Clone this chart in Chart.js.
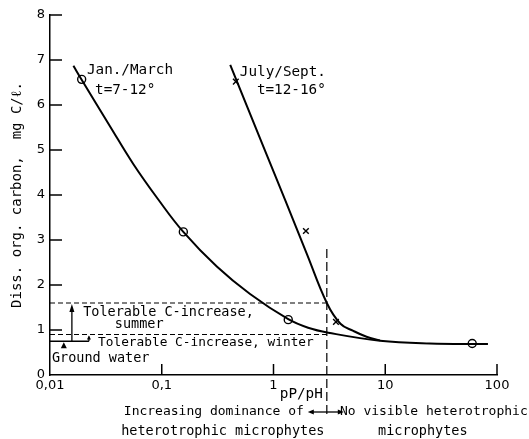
<!DOCTYPE html>
<html>
<head>
<meta charset="utf-8">
<script src="https://cdn.jsdelivr.net/npm/chart.js@4.4.1/dist/chart.umd.min.js"></script>
<style>
  html, body { margin: 0; background: #fff; }
</style>
</head>
<body>
<canvas id="chart" width="529" height="439"></canvas>
<script>
// smooth curves (x = pP/pH, y = mg C/l)
const winterCurve = [[0.0162, 6.87], [0.0192, 6.56], [0.0344, 5.53], [0.0556, 4.69], [0.0931, 3.9],
  [0.156, 3.18], [0.311, 2.41], [0.617, 1.8], [1.355, 1.24], [2.04, 1.05], [3.09, 0.94],
  [8.97, 0.76], [25, 0.7], [83, 0.69]];
const summerCurve = [[0.41, 6.89], [0.81, 5.08], [1.27, 3.89], [1.995, 2.68], [3.0, 1.6],
  [3.97, 1.14], [5.18, 0.98], [6.8, 0.85], [8.97, 0.77]];

// measured points
const winterPoints = [[0.0192, 6.57], [0.156, 3.18], [1.355, 1.23], [60, 0.7]];
const summerPoints = [[0.46, 6.52], [1.95, 3.2], [3.62, 1.18], [60, 0.7]];

// reference levels
const groundWater = 0.75;
const tolerableWinter = 0.9;
const tolerableSummer = 1.6;
const thresholdRatio = 3;   // pP/pH limit
const thresholdTop = 2.8;

const xTickValues = [0.01, 0.1, 1, 10, 100];
const xTickLabels = ['0,01', '0,1', '1', '10', '100'];
const yTickValues = [0, 1, 2, 3, 4, 5, 6, 7, 8];

const FONT = '"DejaVu Sans", sans-serif';
const MONO = '"DejaVu Sans Mono", monospace';
const toXY = arr => arr.map(p => ({ x: p[0], y: p[1] }));

function arrowHead(ctx, x, y, dir, w, h) {
  // dir: 'up' | 'left' | 'right'
  ctx.beginPath();
  if (dir === 'up') {
    ctx.moveTo(x, y); ctx.lineTo(x - w / 2, y + h); ctx.lineTo(x + w / 2, y + h);
  } else if (dir === 'left') {
    ctx.moveTo(x, y); ctx.lineTo(x + h, y - w / 2); ctx.lineTo(x + h, y + w / 2);
  } else {
    ctx.moveTo(x, y); ctx.lineTo(x - h, y - w / 2); ctx.lineTo(x - h, y + w / 2);
  }
  ctx.closePath();
  ctx.fill();
}

const guides = {
  id: 'guides',
  beforeDatasetsDraw(chart) {
    const { ctx, scales: { x, y } } = chart;
    const left = x.left;
    const vx = x.getPixelForValue(thresholdRatio);
    ctx.save();
    ctx.strokeStyle = '#000';
    ctx.fillStyle = '#000';

    // inward tick marks
    ctx.lineWidth = 1.5;
    yTickValues.slice(1).forEach(v => {
      const py = y.getPixelForValue(v);
      ctx.beginPath(); ctx.moveTo(left, py); ctx.lineTo(left + 12, py); ctx.stroke();
    });
    xTickValues.slice(1).forEach(v => {
      const px = x.getPixelForValue(v);
      ctx.beginPath(); ctx.moveTo(px, y.bottom); ctx.lineTo(px, y.bottom - 11); ctx.stroke();
    });

    // dashed tolerance lines
    ctx.lineWidth = 1.2;
    ctx.setLineDash([5, 3]);
    [tolerableSummer, tolerableWinter].forEach(v => {
      const py = y.getPixelForValue(v);
      ctx.beginPath(); ctx.moveTo(left, py); ctx.lineTo(vx, py); ctx.stroke();
    });
    // threshold line, runs down into the caption
    ctx.setLineDash([9, 4]);
    ctx.beginPath();
    ctx.moveTo(vx, y.getPixelForValue(thresholdTop));
    ctx.lineTo(vx, y.bottom + 43);
    ctx.stroke();
    ctx.setLineDash([]);

    // ground water line and arrows
    const gy = y.getPixelForValue(groundWater);
    const ax1 = x.getPixelForValue(0.0157);
    const ax2 = x.getPixelForValue(0.0223);
    ctx.lineWidth = 1.3;
    ctx.beginPath(); ctx.moveTo(left, gy); ctx.lineTo(ax2, gy); ctx.stroke();
    const sy = y.getPixelForValue(tolerableSummer);
    ctx.beginPath(); ctx.moveTo(ax1, gy); ctx.lineTo(ax1, sy + 6); ctx.stroke();
    arrowHead(ctx, ax1, sy + 1, 'up', 5, 8);
    const wy = y.getPixelForValue(tolerableWinter);
    ctx.beginPath(); ctx.moveTo(ax2, gy); ctx.lineTo(ax2, wy + 2); ctx.stroke();
    arrowHead(ctx, ax2, wy + 1, 'up', 4, 4);
    arrowHead(ctx, x.getPixelForValue(0.0133), gy + 1, 'up', 6, 6);

    // labels in the plot
    ctx.textBaseline = 'middle';
    ctx.textAlign = 'left';
    ctx.font = '14.3px ' + MONO;
    const put = (s, vx_, vy_) => ctx.fillText(s, x.getPixelForValue(vx_), y.getPixelForValue(vy_));
    put('Jan./March', 0.0214, 6.78);
    put('t=7-12°', 0.0253, 6.33);
    put('July/Sept.', 0.5, 6.73);
    put('t=12-16°', 0.71, 6.33);
    ctx.font = '13.5px ' + MONO;
    put('Tolerable C-increase,', 0.0198, 1.38);
    put('summer', 0.038, 1.13);
    put('Ground water', 0.0104, 0.36);
    ctx.font = '12.8px ' + MONO;
    put('Tolerable C-increase, winter', 0.0269, 0.71);

    // caption under the axis
    const by = y.bottom;
    ctx.textAlign = 'right';
    ctx.font = '14.3px ' + MONO;
    ctx.fillText('pP/pH', vx - 4, by + 19);
    ctx.textAlign = 'center';
    ctx.font = '13px ' + MONO;
    ctx.fillText('Increasing dominance of', vx - 113, by + 37);
    ctx.fillText('No visible heterotrophic', vx + 107, by + 37);
    ctx.font = '13.5px ' + MONO;
    ctx.fillText('heterotrophic microphytes', vx - 104, by + 56);
    ctx.fillText('microphytes', vx + 96, by + 56);
    ctx.lineWidth = 1.3;
    ctx.beginPath(); ctx.moveTo(vx - 15, by + 37); ctx.lineTo(vx + 13, by + 37); ctx.stroke();
    arrowHead(ctx, vx - 19, by + 37, 'left', 5, 6);
    arrowHead(ctx, vx + 17, by + 37, 'right', 5, 6);
    ctx.restore();
  }
};

const curveStyle = {
  showLine: true,
  borderColor: '#000',
  borderWidth: 2,
  pointRadius: 0,
  tension: 0.4
};
const markerStyle = {
  showLine: false,
  borderColor: '#000',
  backgroundColor: '#fff',
  borderWidth: 1.4
};

new Chart(document.getElementById('chart'), {
  type: 'scatter',
  data: {
    datasets: [
      { label: 'Jan./March', data: toXY(winterCurve), ...curveStyle },
      { label: 'July/Sept.', data: toXY(summerCurve), ...curveStyle },
      { label: 'Jan./March points', data: toXY(winterPoints), ...markerStyle, pointStyle: 'circle', pointRadius: 4 },
      { label: 'July/Sept. points', data: toXY(summerPoints), ...markerStyle, pointStyle: 'crossRot', pointRadius: 4 }
    ]
  },
  options: {
    responsive: false,
    animation: false,
    devicePixelRatio: 1,
    layout: { padding: { left: 0, right: 32, top: 15, bottom: 0 } },
    plugins: { legend: { display: false }, tooltip: { enabled: false } },
    scales: {
      x: {
        type: 'logarithmic',
        min: 0.01,
        max: 100,
        afterBuildTicks: s => { s.ticks = xTickValues.map(v => ({ value: v })); },
        afterFit: s => { s.height = 64; },
        grid: { display: false, drawTicks: false },
        border: { display: true, color: '#000', width: 1.5 },
        ticks: {
          autoSkip: false,
          maxRotation: 0,
          padding: 3,
          color: '#000',
          font: { family: FONT, size: 13 },
          callback: (v, i) => xTickLabels[i]
        }
      },
      y: {
        min: 0,
        max: 8,
        afterBuildTicks: s => { s.ticks = yTickValues.map(v => ({ value: v })); },
        afterFit: s => { s.width = 50; },
        grid: { display: false, drawTicks: false },
        border: { display: true, color: '#000', width: 1.5 },
        ticks: {
          padding: 5,
          color: '#000',
          font: { family: FONT, size: 13 }
        },
        title: {
          display: true,
          text: 'Diss. org. carbon,  mg C/ℓ.',
          color: '#000',
          font: { family: MONO, size: 14 },
          padding: { top: 9, bottom: 0 }
        }
      }
    }
  },
  plugins: [guides]
});
</script>
</body>
</html>
